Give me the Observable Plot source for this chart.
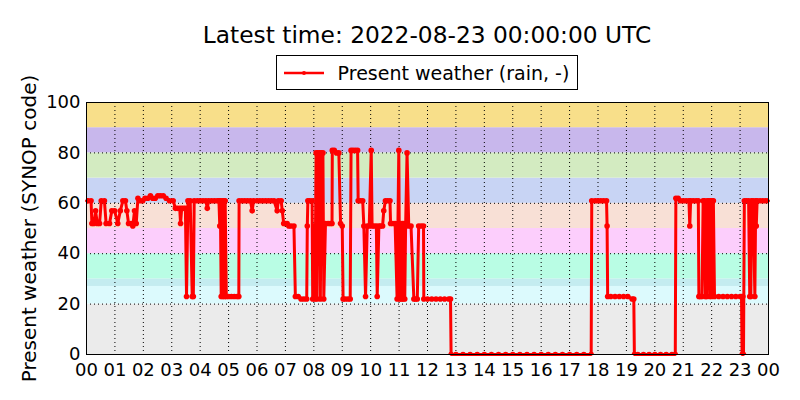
<!DOCTYPE html>
<html>
<head>
<meta charset="utf-8">
<script src="https://cdn.jsdelivr.net/npm/d3@7"></script>
<script src="https://cdn.jsdelivr.net/npm/@observablehq/plot@0.6"></script>
<style>
  body { margin: 0; background: #fff; font-family: "DejaVu Sans", sans-serif; }
  #wrap { width: 800px; height: 400px; position: relative; overflow: hidden; background: #fff; }
  #title { position: absolute; left: 86px; width: 682px; top: 21px; text-align: center; font-size: 23.3px; line-height: 28px; color: #000; white-space: nowrap; }
  #legendRow { position: absolute; left: 86px; width: 682px; top: 55px; display: flex; justify-content: center; }
  #legend { border: 1px solid #000; height: 35px; box-sizing: border-box; display: flex; align-items: center; padding: 0 8px 0 7px; background: #fff; }
  #legend svg { margin-right: 14px; }
  #legend span { font-size: 19px; color: #000; white-space: nowrap; }
  #chart { position: absolute; left: 0; top: 95px; }
  #chart g[aria-label="y-axis label"] text { font-size: 20px; }
</style>
</head>
<body>
<div id="wrap">
  <div id="title"></div>
  <div id="legendRow"><div id="legend"></div></div>
  <div id="chart"></div>
</div>
<script>
// ---- text ----
const titleText = "Latest time: 2022-08-23 00:00:00 UTC";
const seriesName = "Present weather (rain, -)";
const yLabel = "Present weather (SYNOP code)";

// ---- axes ----
const hourTicks = [0,1,2,3,4,5,6,7,8,9,10,11,12,13,14,15,16,17,18,19,20,21,22,23,24];
const hourLabels = ["00","01","02","03","04","05","06","07","08","09","10","11","12","13","14","15","16","17","18","19","20","21","22","23","00"];
const yTicks = [0,20,40,60,80,100];

// ---- background bands (SYNOP code groups) ----
const bandNames = ["00-19","20-26","27-29","30-39","40-49","50-59","60-69","70-79","80-89","90-99"];
const bandLow  = [0,20,27,30,40,50,60,70,80,90];
const bandHigh = [20,27,30,40,50,60,70,80,90,100];

// ---- series: hour of day, present weather code ----
const hours = [
 0.00,0.05,0.16,0.19,0.26,0.32,0.38,0.46,0.52,0.63,0.69,0.81,0.89,0.99,1.10,1.19,1.28,1.37,1.42,1.48,
 1.57,1.63,1.69,1.75,1.81,1.89,1.98,2.06,2.16,2.25,2.33,2.42,2.51,2.60,2.70,2.80,2.92,3.05,3.13,3.20,
 3.28,3.31,3.35,3.42,3.48,3.52,3.57,3.65,3.72,3.76,3.79,3.90,4.00,4.10,4.20,4.25,4.30,4.40,4.50,4.60,
 4.66,4.69,4.71,4.74,4.77,4.80,4.83,4.86,4.88,4.92,5.00,5.10,5.20,5.30,5.36,5.37,5.47,5.57,5.67,5.77,
 5.83,5.88,6.00,6.10,6.20,6.30,6.40,6.50,6.60,6.71,6.75,6.85,6.89,6.94,7.00,7.06,7.12,7.20,7.30,7.35,
 7.45,7.55,7.65,7.75,7.77,7.79,7.85,7.94,7.96,8.00,8.04,8.08,8.11,8.14,8.17,8.20,8.23,8.26,8.29,8.32,
 8.35,8.41,8.50,8.58,8.64,8.65,8.72,8.80,8.88,8.94,9.00,9.03,9.10,9.20,9.28,9.31,9.38,9.46,9.54,9.56,
 9.64,9.72,9.76,9.82,9.88,9.95,10.02,10.05,10.12,10.20,10.23,10.29,10.35,10.42,10.46,10.52,10.60,10.68,10.70,10.78,
 10.86,10.93,10.96,10.99,11.02,11.05,11.08,11.11,11.14,11.17,11.20,11.23,11.28,11.34,11.42,11.52,11.58,11.64,11.69,11.78,
 11.86,11.87,12.00,12.15,12.30,12.45,12.60,12.75,12.81,12.83,13.00,13.25,13.50,13.75,14.00,14.25,14.50,14.75,15.00,15.25,
 15.50,15.75,16.00,16.25,16.50,16.75,17.00,17.25,17.50,17.76,17.78,17.90,18.00,18.10,18.20,18.30,18.32,18.34,18.45,18.60,
 18.75,18.90,19.05,19.20,19.26,19.28,19.40,19.60,19.80,20.00,20.20,20.40,20.60,20.72,20.74,20.82,20.90,21.00,21.10,21.20,
 21.23,21.26,21.35,21.45,21.53,21.55,21.60,21.66,21.70,21.74,21.78,21.82,21.84,21.90,21.93,21.96,22.00,22.02,22.06,22.10,
 22.25,22.40,22.55,22.70,22.85,23.00,23.05,23.07,23.10,23.12,23.15,23.22,23.30,23.34,23.38,23.40,23.46,23.52,23.55,23.57,
 23.60,23.70,23.80,23.90,24.00
];
const codes = [
 61,61,61,52,52,57,52,52,61,61,52,52,57,57,52,57,61,61,57,52,
 52,51,57,52,62,61,61,62,62,63,62,62,63,63,63,62,61,61,58,58,
 58,52,58,58,58,23,61,61,23,23,61,61,61,61,61,58,61,61,61,61,
 61,51,61,23,61,23,61,23,61,23,23,23,23,23,23,61,61,61,61,61,
 57,61,61,61,61,61,61,61,61,57,61,61,57,52,52,52,51,51,51,23,
 23,22,22,22,51,61,61,61,22,51,22,80,22,80,51,80,22,80,51,80,
 22,52,52,52,52,81,81,80,80,52,51,22,22,22,22,81,81,81,81,61,
 61,61,51,23,51,51,81,51,51,51,23,51,51,51,57,61,61,61,52,52,
 52,22,52,81,22,52,22,52,22,52,22,51,80,51,51,22,22,22,51,51,
 51,22,22,22,22,22,22,22,22,0,0,0,0,0,0,0,0,0,0,0,
 0,0,0,0,0,0,0,0,0,0,61,61,61,61,61,61,51,23,23,23,
 23,23,23,22,22,0,0,0,0,0,0,0,0,0,62,62,61,61,61,61,
 51,61,61,61,61,23,23,23,61,61,23,23,61,61,23,61,23,61,61,23,
 23,23,23,23,23,23,23,0,23,0,61,61,61,23,23,61,61,23,61,51,
 61,61,61,61,61
];

const obs = hours.map((h, i) => ({hour: h, code: codes[i]}));
const bands = bandNames.map((name, i) => ({name, lo: bandLow[i], hi: bandHigh[i]}));

document.getElementById("title").textContent = titleText;

// legend
const legend = document.getElementById("legend");
legend.innerHTML = `<svg width="40" height="12"><line x1="0" y1="6" x2="40" y2="6" stroke="#ff0000" stroke-width="2.5"/><circle cx="20" cy="6" r="2" fill="#ff0000"/></svg><span></span>`;
legend.querySelector("span").textContent = seriesName;

const chart = Plot.plot({
  width: 800,
  height: 305,
  marginTop: 7,
  marginBottom: 46,
  marginLeft: 86,
  marginRight: 32,
  style: {fontFamily: "DejaVu Sans", fontSize: "18px", color: "#000", background: "#fff", overflow: "visible"},
  x: {domain: [0, 24]},
  y: {domain: [0, 100]},
  color: {
    type: "ordinal",
    domain: bandNames,
    range: ["#ebebeb","#dcfafd","#c4ecf0","#b9fde4","#fccefc","#f8e0d6","#c8d4f4","#d3ebc1","#c8b7ec","#f8df8a"]
  },
  marks: [
    Plot.rect(bands, {y1: "lo", y2: "hi", fill: "name"}),
    Plot.ruleX(hourTicks, {stroke: "#000", strokeWidth: 1, strokeDasharray: "1,3"}),
    Plot.ruleY(yTicks, {stroke: "#000", strokeWidth: 1, strokeDasharray: "1,3"}),
    Plot.line(obs, {x: "hour", y: "code", stroke: "#ff0000", strokeWidth: 3}),
    Plot.dot(obs, {x: "hour", y: "code", r: 2.8, fill: "#ff0000", stroke: "none", clip: true}),
    Plot.frame({stroke: "#000", strokeWidth: 1}),
    Plot.axisX(hourTicks, {
      tickFormat: d => hourLabels[hourTicks.indexOf(d)],
      tickSize: 0, tickPadding: 9, label: null, fontSize: 18
    }),
    Plot.axisY(yTicks, {
      tickSize: 0, tickPadding: 6, fontSize: 18,
      label: yLabel, labelAnchor: "center", labelArrow: "none", labelOffset: 65
    })
  ]
});
document.getElementById("chart").appendChild(chart);
</script>
</body>
</html>
